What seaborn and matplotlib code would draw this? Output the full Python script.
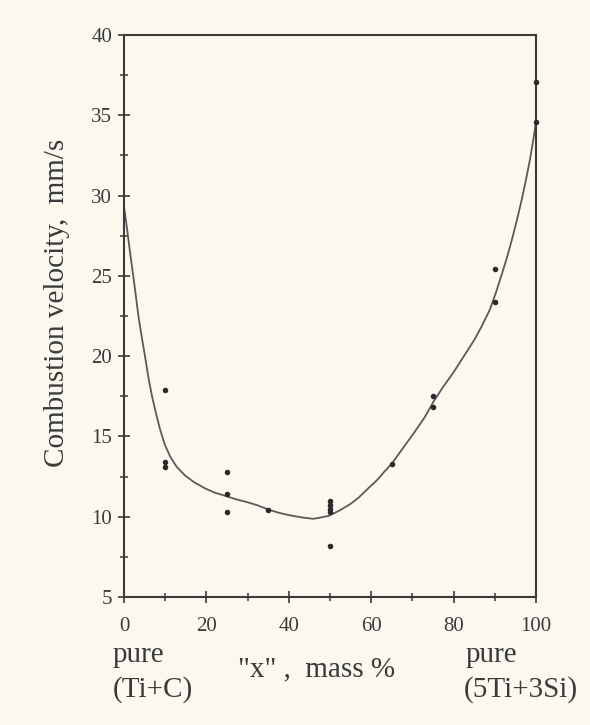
import matplotlib
matplotlib.use("Agg")
import matplotlib.pyplot as plt
import seaborn as sns
import numpy as np
from matplotlib.ticker import MultipleLocator

# measured data points: "x" (mass %) vs combustion velocity (mm/s)
x_pts = [10, 10, 10, 25, 25, 25, 35, 50, 50, 50, 50, 50, 65, 75, 75, 90, 90, 100, 100]
y_pts = [17.9, 13.4, 13.1, 12.8, 11.4, 10.3, 10.4, 10.95, 10.75, 10.5, 10.3, 8.2,
         13.3, 17.5, 16.85, 25.4, 23.4, 37.1, 34.6]

# fitted curve
curve_x = [0, 0.5, 1, 1.6, 2.3, 2.9, 3.5, 4.3, 5.1, 5.9, 6.8, 7.8, 8.8, 9.9, 11.2,
           12.8, 14.9, 17, 19.8, 22, 24.6, 27, 30, 32.5, 35, 37.5, 40, 43.3, 46,
           49.7, 52.4, 55, 57, 59, 61.5, 63, 65, 67.5, 70.6, 73, 75.2, 77.5, 80,
           82.5, 85, 86.8, 88.8, 90.2, 91.7, 92.9, 94.1, 95.3, 96.5, 97.5, 98.5,
           99.3, 100]
curve_y = [29.3, 28.4, 27.4, 26.2, 24.9, 23.7, 22.5, 21.2, 20.0, 18.7, 17.5, 16.4,
           15.4, 14.5, 13.75, 13.1, 12.55, 12.15, 11.75, 11.5, 11.3, 11.1, 10.9, 10.7,
           10.45, 10.25, 10.1, 9.95, 9.87, 10.05, 10.4, 10.8, 11.2, 11.7, 12.3,
           12.75, 13.3, 14.2, 15.3, 16.2, 17.2, 18.1, 19.0, 20.0, 21.0, 21.85,
           22.9, 23.9, 25.1, 26.1, 27.2, 28.4, 29.7, 30.9, 32.2, 33.4, 34.6]

x_ticks = [0, 20, 40, 60, 80, 100]
y_ticks = [5, 10, 15, 20, 25, 30, 35, 40]

sns.set_style("ticks")
plt.rcParams['font.family'] = ['Liberation Serif', 'DejaVu Serif']

bg = '#fbf9ef'
ink = '#3a3a3a'
fig = plt.figure(figsize=(5.9, 7.25), dpi=100, facecolor=bg)
ax = fig.add_axes([124 / 590, 1 - 597 / 725, 412 / 590, 562 / 725])
ax.set_facecolor(bg)

sns.lineplot(x=curve_x, y=curve_y, sort=False, estimator=None, ax=ax,
             color='#5a5a5a', linewidth=1.3)
sns.scatterplot(x=x_pts, y=y_pts, ax=ax, color='#2a2a2a', s=16, linewidth=0,
                clip_on=False, zorder=5)

ax.set_xlim(0, 100)
ax.set_ylim(5, 40)
ax.set_xticks(x_ticks)
ax.set_yticks(y_ticks)
ax.xaxis.set_minor_locator(MultipleLocator(10))
ax.yaxis.set_minor_locator(MultipleLocator(2.5))
ax.set_xticklabels([str(v) for v in x_ticks])
ax.set_yticklabels([str(v) for v in y_ticks])
ax.tick_params(axis='both', which='major', direction='inout', length=9, width=1.2,
               color=ink, labelcolor=ink, labelsize=15)
ax.tick_params(axis='both', which='minor', direction='inout', length=6, width=1.1,
               color=ink)
ax.tick_params(axis='x', which='major', pad=10)
ax.tick_params(axis='y', which='major', pad=4)
for sp in ax.spines.values():
    sp.set_color(ink)
    sp.set_linewidth(1.5)
ax.set_xlabel('')
ax.set_ylabel('')

W, H = 590, 725
def ft(px, py, s, **kw):
    fig.text(px / W, 1 - py / H, s, color=ink, **kw)

ft(57, 303, 'Combustion velocity,  mm/s', rotation=90, ha='center', va='center', fontsize=21)
ft(113, 655, 'pure', ha='left', va='center', fontsize=21)
ft(113, 690, '(Ti+C)', ha='left', va='center', fontsize=21)
ft(238, 669, '"x" ,  mass %', ha='left', va='center', fontsize=21)
ft(466, 655, 'pure', ha='left', va='center', fontsize=21)
ft(464, 690, '(5Ti+3Si)', ha='left', va='center', fontsize=21)

fig.savefig('out.png', dpi=100, facecolor=bg)
